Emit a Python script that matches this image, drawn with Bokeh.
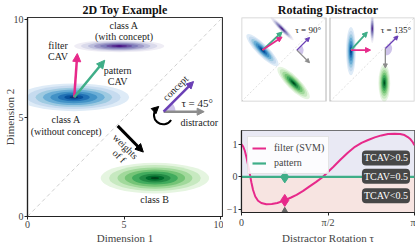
import numpy as np
from bokeh.plotting import figure
from bokeh.layouts import row, column
from bokeh.models import Range1d, Arrow, NormalHead, Label, BoxAnnotation, FixedTicker
from bokeh.core.properties import value
from bokeh.embed import file_html
from bokeh.resources import INLINE
from bokeh.palettes import Blues9, Purples9, Greens9

FONT = "Liberation Serif"
PINK = "#e7298a"
GREEN = "#3fae88"
PURPLE = "#6a3fb5"
GREY = "#8c8c8c"
WEDGE = "#cfc4ea"

# ---------------- data: left panel (tau = 45 deg) ----------------
diag = [0, 10]
blob_cx = [2.4, 4.75, 6.6]
blob_cy = [6.05, 8.65, 1.95]
blob_sx = [1.1, 0.9, 1.08]
blob_sy = [0.27, 0.12, 0.30]
blob_ang = [0.0, 0.0, 0.0]
cav_origin = [2.42, 6.05]
filter_tip = [2.58, 8.27]
pattern_tip = [4.0, 7.93]
weights_from = [4.67, 4.6]
weights_to = [6.0, 3.27]
glyph_origin = [7.05, 5.32]
concept_tip = [8.6, 6.85]
distractor_tip = [9.15, 5.32]
rot_center = [7.03, 5.15]
rot_radius = 0.48
rot_angles = [132, 328]

lbl_text = ["class A", "(with concept)", "filter", "CAV", "pattern", "CAV",
            "class A", "(without concept)", "class B", "distractor"]
lbl_x = [5.0, 5.0, 1.58, 1.58, 4.67, 4.67, 2.0, 2.0, 6.58, 7.92]
lbl_y = [9.7, 9.13, 8.68, 8.1, 7.43, 6.85, 4.93, 4.32, 0.88, 4.77]
lbl_align = ["center"] * 9 + ["left"]

# ---------------- data: rotated panels ----------------
tau_panels = ["τ = 90°", "τ = 135°"]
pan_blob_cx = [[2.48, 4.8, 6.16], [2.48, 5.0, 6.43]]
pan_blob_cy = [[6.12, 8.67, 2.2], [6.0, 8.67, 2.2]]
pan_blob_major = [[1.0, 0.73, 1.0], [1.1, 0.65, 0.85]]
pan_blob_minor = [[0.27, 0.12, 0.3], [0.22, 0.1, 0.27]]
pan_blob_ang = [-45, 90]
pan_origin = [[2.48, 6.12], [2.48, 6.12]]
pan_pattern_tip = [[4.8, 8.27], [4.42, 8.27]]
pan_filter_tip = [[4.8, 7.68], [4.8, 6.12]]
pan_glyph_origin = [[6.55, 6.12], [6.55, 6.3]]
pan_concept_tip = [[8.05, 7.62], [8.05, 7.8]]
pan_distractor_tip = [[8.05, 4.62], [6.55, 4.0]]
pan_wedge = [[-45, 45], [-90, 45]]
pan_tau_xy = [[6.36, 8.47], [6.0, 8.47]]

# ---------------- data: TCAV vs rotation ----------------
tau = [0.0, 0.03, 0.06, 0.09, 0.12, 0.15, 0.18, 0.21, 0.25, 0.30, 0.36, 0.45, 0.55,
       0.65, 0.785, 0.90, 1.00, 1.12, 1.23, 1.35, 1.47, 1.57, 1.67, 1.80, 1.93, 2.06,
       2.18, 2.30, 2.42, 2.54, 2.66, 2.78, 2.88, 2.96, 3.02, 3.07, 3.11, 3.1416]
filter_sens = [1.00, 0.93, 0.80, 0.60, 0.36, 0.10, -0.17, -0.40, -0.60, -0.73, -0.80,
               -0.84, -0.83, -0.80, -0.72, -0.63, -0.55, -0.43, -0.30, -0.16, -0.01,
               0.15, 0.31, 0.53, 0.74, 0.92, 1.04, 1.13, 1.21, 1.27, 1.31, 1.32, 1.31,
               1.28, 1.22, 1.15, 1.06, 0.97]
pattern_sens = [0.0, 0.0]
pattern_tau = [0.0, np.pi]
marker_tau = np.pi / 4
marker_filter = -0.72
marker_pattern = 0.0
marker_tri = -1.09
badge_text = ["TCAV>0.5", "TCAV=0.5", "TCAV<0.5"]
badge_y = [0.58, 0.02, -0.575]

LEVELS = [2.6, 2.2, 1.8, 1.45, 1.1, 0.75, 0.45, 0.2]


def draw_blob(p, cx, cy, a, b, ang, pal, rn="default"):
    cols = list(reversed(pal))[1:]
    for k, c in zip(LEVELS, cols):
        p.ellipse(x=cx, y=cy, width=2 * k * a, height=2 * k * b, angle=ang,
                  fill_color=c, line_color=None, x_range_name=rn)


def arrow(p, s, e, color, lw, size, rn="default"):
    p.add_layout(Arrow(end=NormalHead(size=size, fill_color=color, line_color=color, line_width=1),
                       x_start=s[0], y_start=s[1], x_end=e[0], y_end=e[1],
                       line_color=color, line_width=lw, x_range_name=rn))


def style_axes(p):
    for ax in p.axis:
        ax.major_label_text_font = FONT
        ax.major_label_text_font_size = "10px"
        ax.axis_label_text_font = FONT
        ax.axis_label_text_font_size = "11px"
        ax.axis_label_text_font_style = "normal"
        ax.major_tick_in = 0
        ax.major_tick_out = 3
        ax.minor_tick_line_color = None
        ax.major_label_standoff = 1
        ax.axis_label_standoff = 1
        ax.axis_line_color = "#222222"
        ax.major_tick_line_color = "#222222"
        ax.axis_line_width = 1.2


def style_title(p):
    p.title.text_font = FONT
    p.title.text_font_size = "12px"
    p.title.text_color = "#111111"
    p.title.align = "center"
    p.title.standoff = 1


# ================= left figure =================
p1 = figure(width=223, height=246, x_range=Range1d(0, 10.1), y_range=Range1d(0, 10.1),
            output_backend="svg", toolbar_location=None, title="2D Toy Example",
            min_border_left=20, min_border_right=1, min_border_top=15, min_border_bottom=29)
p1.grid.visible = False
p1.outline_line_color = "#333333"
p1.outline_line_width = 1.2
style_title(p1)
p1.xaxis.ticker = FixedTicker(ticks=[0, 5, 10])
p1.yaxis.ticker = FixedTicker(ticks=[0, 5, 10])
p1.xaxis.axis_label = "Dimension 1"
p1.yaxis.axis_label = "Dimension 2"
style_axes(p1)
p1.yaxis.axis_label_standoff = -5

p1.line(diag, diag, line_color="#cfcfcf", line_dash="4 3", line_width=1)
for cx, cy, a, b, ang, pal in zip(blob_cx, blob_cy, blob_sx, blob_sy, blob_ang,
                                  [Blues9, Purples9, Greens9]):
    draw_blob(p1, cx, cy, a, b, ang, pal)

arrow(p1, cav_origin, filter_tip, PINK, 2.5, 8)
arrow(p1, cav_origin, pattern_tip, GREEN, 2.5, 8)
arrow(p1, weights_from, weights_to, "black", 3, 8)
p1.wedge(x=glyph_origin[0], y=glyph_origin[1], radius=0.62, start_angle=0,
         end_angle=np.pi / 4, fill_color=WEDGE, line_color=None)
arrow(p1, glyph_origin, distractor_tip, GREY, 2.5, 7)
arrow(p1, glyph_origin, concept_tip, PURPLE, 2.5, 7)
a0, a1 = np.radians(rot_angles[0]), np.radians(rot_angles[1])
p1.arc(x=rot_center[0], y=rot_center[1], radius=rot_radius, start_angle=a0,
       end_angle=a1, direction="anticlock", line_color="black", line_width=2)
hx, hy = rot_center[0] + rot_radius * np.cos(a0), rot_center[1] + rot_radius * np.sin(a0)
dx, dy = np.sin(a0), -np.cos(a0)
arrow(p1, [hx - 0.05 * dx, hy - 0.05 * dy], [hx + 0.12 * dx, hy + 0.12 * dy], "black", 1, 7)

p1.text(x=lbl_x, y=lbl_y, text=lbl_text, text_align=lbl_align, text_baseline="middle",
        text_font=value(FONT), text_font_size="10px", text_color="#222222")
p1.text(x=[7.66], y=[6.52], text=["concept"], angle=np.pi / 4, text_align="center",
        text_baseline="middle", text_font=value(FONT), text_font_size="10px", text_color="#222222")
p1.text(x=[5.08, 4.75], y=[3.55, 3.06], text=["weights", "of f"], angle=-np.pi / 4,
        text_align="center", text_baseline="middle", text_font=value(FONT),
        text_font_size="10px", text_color="#222222")
p1.text(x=[7.97], y=[5.77], text=["τ = 45°"], text_align="left", text_baseline="middle",
        text_font=value(FONT), text_font_size="11px", text_color="#222222")

# ================= top-right: rotated panels =================
pt = figure(width=192, height=105, x_range=Range1d(0, 20.47), y_range=Range1d(0, 10),
            output_backend="svg", toolbar_location=None, title="Rotating Distractor",
            x_axis_location=None, y_axis_location=None,
            min_border_left=15, min_border_right=1, min_border_top=16, min_border_bottom=4)
pt.extra_x_ranges = {"p2": Range1d(-10.47, 10)}
pt.grid.visible = False
pt.outline_line_color = None
style_title(pt)

for i, rn in enumerate(["default", "p2"]):
    pt.line(diag, diag, line_color="#d5d5d5", line_dash="2 2", line_width=0.8, x_range_name=rn)
    for cx, cy, a, b, pal in zip(pan_blob_cx[i], pan_blob_cy[i], pan_blob_major[i],
                                 pan_blob_minor[i], [Blues9, Purples9, Greens9]):
        draw_blob(pt, cx, cy, a, b, np.radians(pan_blob_ang[i]), pal, rn)
    arrow(pt, pan_origin[i], pan_pattern_tip[i], GREEN, 1.8, 5, rn)
    arrow(pt, pan_origin[i], pan_filter_tip[i], PINK, 1.8, 5, rn)
    pt.wedge(x=pan_glyph_origin[i][0], y=pan_glyph_origin[i][1], radius=0.8,
             start_angle=np.radians(pan_wedge[i][0]), end_angle=np.radians(pan_wedge[i][1]),
             fill_color=WEDGE, line_color=None, x_range_name=rn)
    arrow(pt, pan_glyph_origin[i], pan_distractor_tip[i], GREY, 1.3, 4, rn)
    arrow(pt, pan_glyph_origin[i], pan_concept_tip[i], PURPLE, 1.3, 4, rn)
    pt.text(x=[pan_tau_xy[i][0]], y=[pan_tau_xy[i][1]], text=[tau_panels[i]],
            text_align="left", text_baseline="middle", text_font=value(FONT),
            text_font_size="9px", text_color="#222222", x_range_name=rn)
    pt.add_layout(BoxAnnotation(left=0, right=10, bottom=0, top=10, fill_alpha=0,
                                line_color="#555555", line_width=1.5, x_range_name=rn))

# ================= bottom-right: TCAV vs rotation =================
pc = figure(width=192, height=141, x_range=Range1d(0, np.pi), y_range=Range1d(-1.09, 1.42),
            output_backend="svg", toolbar_location=None,
            min_border_left=15, min_border_right=1, min_border_top=25, min_border_bottom=31)
pc.grid.visible = False
pc.outline_line_color = "#333333"
pc.outline_line_width = 1.2
pc.xaxis.ticker = FixedTicker(ticks=[0, np.pi / 2, np.pi])
pc.xaxis.major_label_overrides = {0: "0", np.pi / 2: "π/2", np.pi: "π"}
pc.yaxis.ticker = FixedTicker(ticks=[-1, 0, 1])
pc.yaxis.major_label_overrides = {-1: "−1", 0: "0", 1: "1"}
pc.xaxis.axis_label = "Distractor Rotation τ"
style_axes(pc)
pc.add_layout(BoxAnnotation(bottom=0, fill_color="#e9e9f4", fill_alpha=1, level="underlay"))
pc.add_layout(BoxAnnotation(top=0, fill_color="#f7e4e1", fill_alpha=1, level="underlay"))

pc.line(tau, filter_sens, line_color=PINK, line_width=2, legend_label="filter (SVM)")
pc.line(pattern_tau, pattern_sens, line_color=GREEN, line_width=2.2, legend_label="pattern")
pc.scatter([marker_tau], [marker_pattern], marker="diamond", size=12, color=GREEN)
pc.scatter([marker_tau], [marker_filter], marker="diamond", size=12, color=PINK)
pc.scatter([marker_tau], [marker_tri], marker="triangle", size=9, color="#666666")

for t, y in zip(badge_text, badge_y):
    pc.add_layout(Label(x=3.06, y=y, text=t, text_align="right", text_baseline="middle",
                        text_font=FONT, text_font_size="10px", text_color="white",
                        background_fill_color="#474747", background_fill_alpha=1,
                        padding=2, border_radius=4))

pc.add_layout(Label(x=-3, y=87, x_units="screen", y_units="screen", text="TCAV",
                    text_font=FONT, text_font_size="10px", text_color="#222222",
                    text_baseline="bottom"))
pc.add_layout(Label(x=21, y=86, x_units="screen", y_units="screen", text="sens",
                    text_font=FONT, text_font_size="6px", text_color="#222222",
                    text_baseline="bottom"))

lg = pc.legend[0]
lg.location = "top_left"
lg.label_text_font = FONT
lg.label_text_font_size = "10px"
lg.glyph_width = 14
lg.glyph_height = 12
lg.label_height = 13
lg.spacing = 2
lg.padding = 4
lg.margin = 6
lg.label_standoff = 8
lg.border_line_color = "#cccccc"
lg.background_fill_alpha = 0.85

layout = row(p1, column(pt, pc),
             styles={"position": "absolute", "top": "0px", "left": "0px"})
open("out.html", "w").write(file_html(layout, INLINE))
